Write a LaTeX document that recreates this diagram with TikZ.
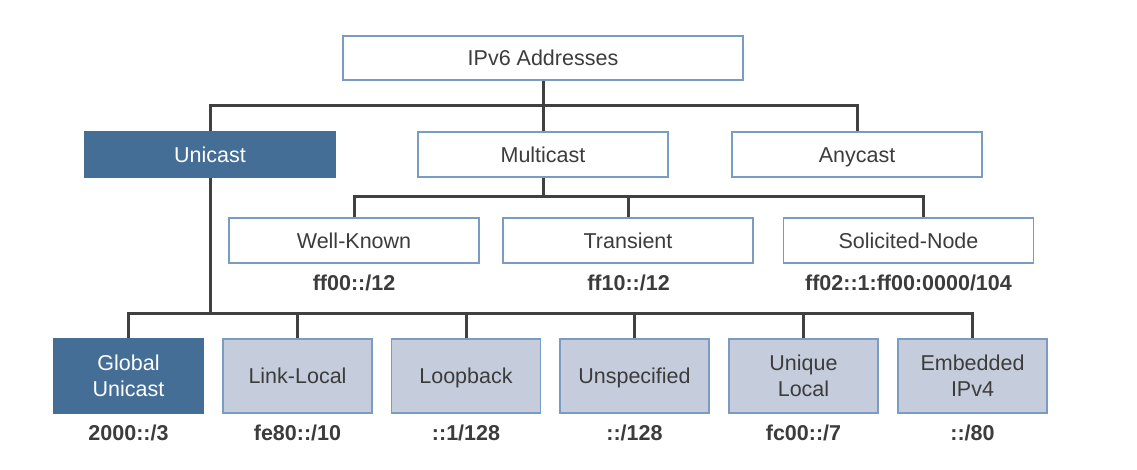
\documentclass[tikz,border=0pt]{standalone}
\usepackage{fontspec}
\setmainfont{Liberation Sans}
\usetikzlibrary{calc}
\definecolor{darkfill}{RGB}{69,110,150}
\definecolor{lightfill}{RGB}{197,205,221}
\definecolor{boxedge}{RGB}{122,156,194}
\definecolor{linegray}{RGB}{64,64,64}
\definecolor{txtgray}{RGB}{60,60,60}
\tikzset{
  basebox/.style={draw=boxedge, line width=1.5pt, rectangle, inner sep=0pt,
    font=\fontsize{21.5}{26}\selectfont, text=txtgray, align=center},
  oneline/.style={text height=15.4pt, text depth=0pt},
  whitebox/.style={basebox, oneline, fill=white, minimum width=250pt, minimum height=45pt},
  topbox/.style={basebox, oneline, fill=white, minimum width=400pt, minimum height=44pt},
  darkbox/.style={basebox, oneline, fill=darkfill, draw=darkfill, text=white, minimum width=250pt, minimum height=45pt},
  leafbox/.style={basebox, fill=lightfill, minimum width=149pt, minimum height=74pt},
  darkleaf/.style={leafbox, fill=darkfill, draw=darkfill, text=white},
  addrlabel/.style={font=\fontsize{21.5}{26}\selectfont\bfseries, text=txtgray, inner sep=0pt},
  conn/.style={draw=linegray, line width=3pt}
}
\begin{document}
\begin{tikzpicture}[x=1pt,y=-1pt]
\useasboundingbox (0,0) rectangle (1137,470);
% top
\node[topbox] (ipv6) at (543,58) {IPv6 Addresses};
% level 2
\node[darkbox] (uni) at (210,154.5) {Unicast};
\node[whitebox] (multi) at (543,154.5) {Multicast};
\node[whitebox] (any) at (857,154.5) {Anycast};
% multicast children
\node[whitebox] (wk) at (354,240.5) {Well-Known};
\node[whitebox] (tr) at (628,240.5) {Transient};
\node[whitebox] (sol) at (908.5,240.5) {Solicited-Node};
\node[addrlabel] (wkp) at (354,283) {ff00::/12};
\node[addrlabel] (trp) at (628.5,283) {ff10::/12};
\node[addrlabel] (solp) at (908.5,283) {ff02::1:ff00:0000/104};
% unicast children
\node[darkleaf] (glob) at (128.5,376) {Global\\Unicast};
\node[leafbox, oneline] (ll) at (297.5,376) {Link-Local};
\node[leafbox, oneline] (lo) at (466,376) {Loopback};
\node[leafbox, oneline] (un) at (634.5,376) {Unspecified};
\node[leafbox] (ul) at (803.5,376) {Unique\\Local};
\node[leafbox] (emb) at (972.5,376) {Embedded\\IPv4};
\node[addrlabel] (globp) at (128.5,433) {2000::/3};
\node[addrlabel] (llp) at (297.5,433) {fe80::/10};
\node[addrlabel] (lop) at (466,433) {::1/128};
\node[addrlabel] (unp) at (634.5,433) {::/128};
\node[addrlabel] (ulp) at (803.5,433) {fc00::/7};
\node[addrlabel] (embp) at (972.5,433) {::/80};
% junctions
\coordinate (j1) at (543,106);
\coordinate (j2) at (543,197);
\coordinate (j3) at (210,313);
\coordinate (solin) at ($(sol.north)+(14.5,0)$);
% connectors level 1
\draw[conn] (ipv6.south) -- (j1);
\draw[conn] (uni.north) |- (j1) -| (any.north);
\draw[conn] (j1) -- (multi.north);
% multicast connectors
\draw[conn] (multi.south) -- (j2);
\draw[conn] (wk.north) |- (j2) -| (solin);
\draw[conn] (tr.north) -- (tr.north |- j2);
% unicast connectors
\draw[conn] (uni.south) -- (j3);
\draw[conn] (glob.north) |- (j3) -| (emb.north);
\draw[conn] (ll.north) -- (ll.north |- j3);
\draw[conn] (lo.north) -- (lo.north |- j3);
\draw[conn] (un.north) -- (un.north |- j3);
\draw[conn] (ul.north) -- (ul.north |- j3);
\end{tikzpicture}
\end{document}
